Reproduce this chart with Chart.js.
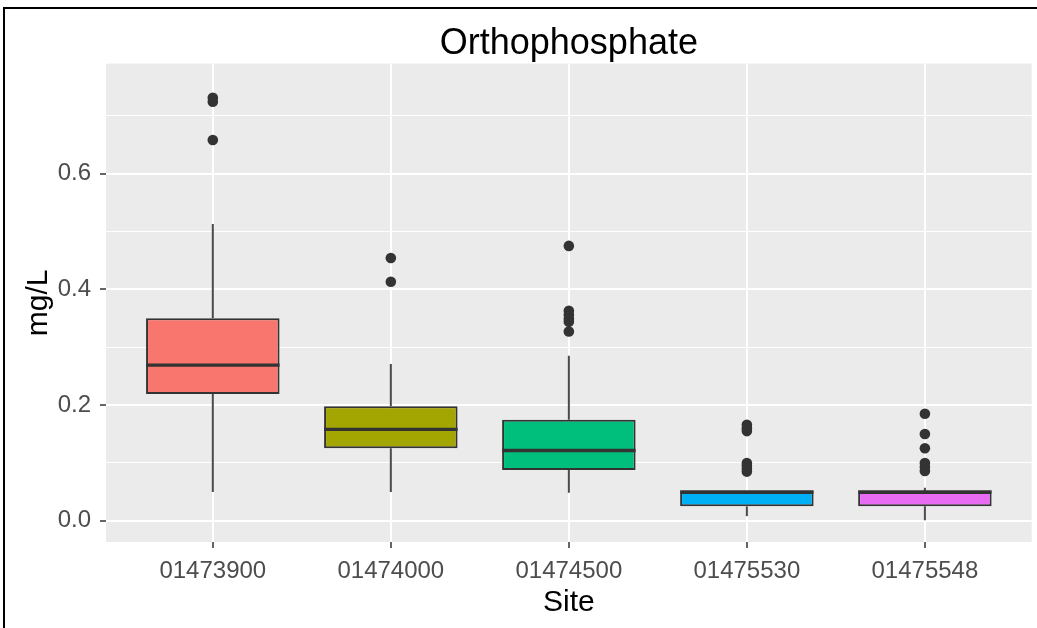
<!DOCTYPE html>
<html>
<head>
<meta charset="utf-8">
<script src="https://cdn.jsdelivr.net/npm/chart.js@4"></script>
<style>
  html, body { margin:0; padding:0; background:#fff; }
  #wrap { position:relative; width:1037px; height:628px; overflow:hidden; }
  #frame { position:absolute; left:3px; top:7px; width:1040px; height:630px; border-top:2px solid #000; border-left:2px solid #000; }
  canvas { position:absolute; left:0; top:0; }
</style>
</head>
<body>
<div id="wrap">
  <canvas id="chart" width="1037" height="628"></canvas>
  <div id="frame"></div>
</div>
<script>
// box summaries (mg/L)
const sites = ['01473900', '01474000', '01474500', '01475530', '01475548'];
const q1 = [0.219, 0.1255, 0.088, 0.025, 0.025];
const medians = [0.269, 0.158, 0.1216, 0.05, 0.05];
const q3 = [0.350, 0.198, 0.1745, 0.05, 0.05];
const whiskerLow = [0.050, 0.050, 0.0486, 0.008, 0.001];
const whiskerHigh = [0.513, 0.271, 0.285, 0.05, 0.057];
const outliers = [
  [0.731, 0.724, 0.658],
  [0.454, 0.413],
  [0.475, 0.363, 0.356, 0.349, 0.344, 0.327],
  [0.166, 0.160, 0.155, 0.100, 0.095, 0.090, 0.085],
  [0.185, 0.150, 0.1255, 0.100, 0.093, 0.086]
];
const fills = ['#F8766D', '#A3A500', '#00BF7D', '#00B0F6', '#E76BF3'];
const yTicks = [0, 0.1, 0.2, 0.3, 0.4, 0.5, 0.6, 0.7];
const yLabels = ['0.0', '', '0.2', '', '0.4', '', '0.6', ''];

const INK = '#333333';
const FONT = "'Liberation Sans', Arial, sans-serif";
const isMajorY = (i) => yLabels[i] !== '';

const boxData = sites.map((s, i) => ({ x: i + 1, y: [q1[i], q3[i]] }));
const outlierData = [];
outliers.forEach((arr, i) => arr.forEach(v => outlierData.push({ x: i + 1, y: v })));

const panelBg = {
  id: 'panelBg',
  beforeDraw(chart){
    const { ctx, chartArea: a } = chart;
    ctx.save();
    ctx.fillStyle = '#EBEBEB';
    ctx.fillRect(a.left, a.top, a.right - a.left, a.bottom - a.top);
    ctx.restore();
  }
};

const boxParts = {
  id: 'boxParts',
  beforeDatasetsDraw(chart){
    const { ctx, scales: { x, y } } = chart;
    ctx.save();
    ctx.strokeStyle = '#4a4a4a';
    ctx.lineWidth = 2;
    sites.forEach((s, i) => {
      const px = x.getPixelForValue(i + 1);
      ctx.beginPath();
      ctx.moveTo(px, y.getPixelForValue(whiskerHigh[i]));
      ctx.lineTo(px, y.getPixelForValue(q3[i]));
      ctx.moveTo(px, y.getPixelForValue(q1[i]));
      ctx.lineTo(px, y.getPixelForValue(whiskerLow[i]));
      ctx.stroke();
    });
    ctx.restore();
  },
  afterDatasetsDraw(chart){
    const { ctx, scales: { y } } = chart;
    const bars = chart.getDatasetMeta(0).data;
    ctx.save();
    ctx.strokeStyle = INK;
    ctx.lineWidth = 3.4;
    bars.forEach((b, i) => {
      const py = y.getPixelForValue(medians[i]);
      ctx.beginPath();
      ctx.moveTo(b.x - b.width / 2, py);
      ctx.lineTo(b.x + b.width / 2, py);
      ctx.stroke();
    });
    ctx.restore();
  }
};

new Chart(document.getElementById('chart'), {
  type: 'bar',
  data: {
    datasets: [
      {
        data: boxData,
        backgroundColor: fills,
        borderColor: INK,
        borderWidth: 2,
        borderSkipped: false,
        barPercentage: 0.75,
        categoryPercentage: 1,
        order: 2
      },
      {
        type: 'scatter',
        data: outlierData,
        pointRadius: 5.3,
        pointBackgroundColor: INK,
        pointBorderColor: INK,
        pointBorderWidth: 0,
        order: 1
      }
    ]
  },
  options: {
    responsive: false,
    animation: false,
    layout: { padding: { left: 0, right: 5, top: 0, bottom: 0 } },
    plugins: {
      legend: { display: false },
      tooltip: { enabled: false },
      title: {
        display: true,
        fullSize: false,
        text: 'Orthophosphate',
        color: '#000',
        font: { family: FONT, size: 36, weight: 'normal', lineHeight: 1.1 },
        padding: { top: 24, bottom: 0 }
      }
    },
    scales: {
      x: {
        type: 'linear',
        offset: false,
        min: 0.4,
        max: 5.6,
        afterBuildTicks(scale){ scale.ticks = sites.map((s, i) => ({ value: i + 1 })); },
        afterFit(scale){ scale.height = 86; },
        ticks: {
          color: '#4D4D4D',
          font: { family: FONT, size: 24 },
          padding: 9,
          maxRotation: 0,
          autoSkip: false,
          callback: (v) => sites[Math.round(v) - 1] || ''
        },
        grid: {
          offset: false,
          color: '#FFFFFF',
          lineWidth: 2,
          tickLength: 6,
          tickColor: INK,
          tickWidth: 1.5
        },
        border: { display: false },
        title: {
          display: true,
          text: 'Site',
          color: '#000',
          font: { family: FONT, size: 30 },
          padding: { top: 0, bottom: 7 }
        }
      },
      y: {
        type: 'linear',
        min: -0.0366,
        max: 0.79,
        afterBuildTicks(scale){ scale.ticks = yTicks.map(v => ({ value: v })); },
        afterFit(scale){ scale.width = 106; },
        ticks: {
          color: '#4D4D4D',
          font: { family: FONT, size: 24 },
          padding: 9,
          autoSkip: false,
          callback: (v, i) => yLabels[i]
        },
        grid: {
          color: '#FFFFFF',
          lineWidth: (c) => isMajorY(c.index) ? 2 : 1,
          tickLength: 6,
          tickColor: (c) => isMajorY(c.index) ? INK : 'rgba(0,0,0,0)',
          tickWidth: 1.5
        },
        border: { display: false },
        title: {
          display: true,
          text: 'mg/L',
          color: '#000',
          font: { family: FONT, size: 30 },
          padding: { top: 21, bottom: 0 }
        }
      }
    }
  },
  plugins: [panelBg, boxParts]
});
</script>
</body>
</html>
